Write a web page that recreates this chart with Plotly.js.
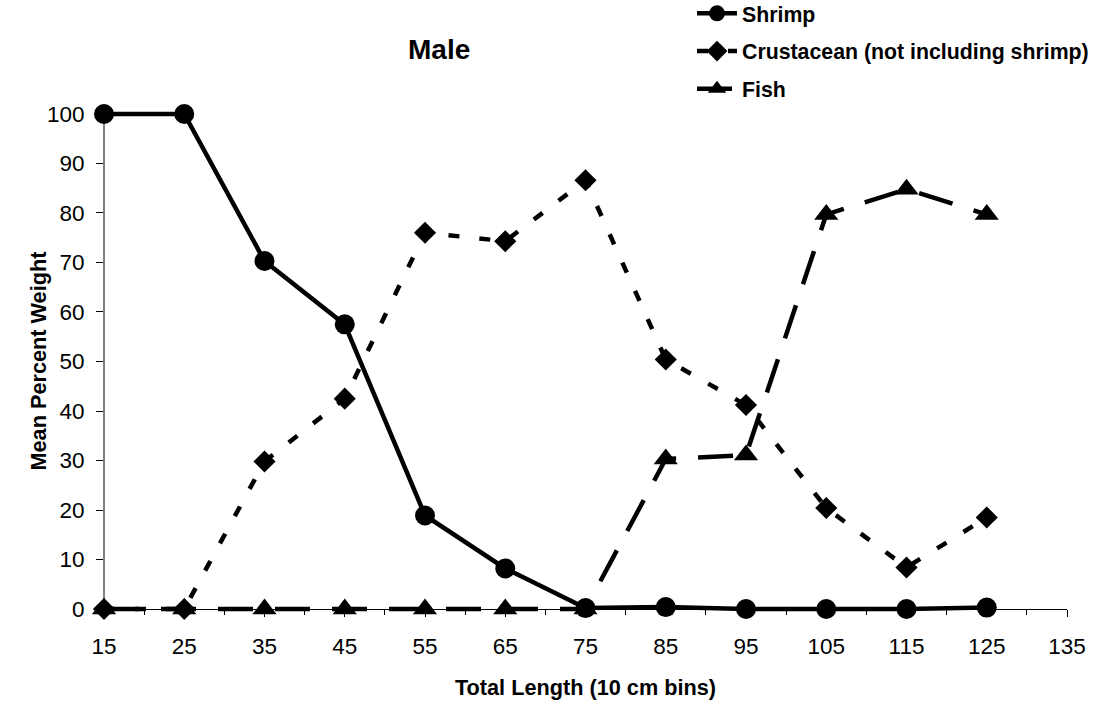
<!DOCTYPE html>
<html>
<head>
<script src="https://cdn.plot.ly/plotly-3.0.1.min.js"></script>
<style>html,body{margin:0;padding:0;background:#fff}#chart{width:1093px;height:705px}</style>
</head>
<body>
<div id="chart"></div>
<script>
const lengthBins = [15, 25, 35, 45, 55, 65, 75, 85, 95, 105, 115, 125];
const shrimp = [100, 100, 70.3, 57.5, 18.9, 8.2, 0.2, 0.4, 0, 0, 0, 0.3];
const crustacean = [0, 0, 29.8, 42.5, 76, 74.3, 86.6, 50.4, 41.2, 20.4, 8.4, 18.5];
const fish = [0, 0, 0, 0, 0, 0, 0, 30.3, 31.1, 79.7, 84.8, 79.7];
const xTicks = [15, 25, 35, 45, 55, 65, 75, 85, 95, 105, 115, 125, 135];
const yTicks = [0, 10, 20, 30, 40, 50, 60, 70, 80, 90, 100];

const font = 'Liberation Sans, Arial, sans-serif';
const traces = [
  {x: lengthBins, y: shrimp, name: 'Shrimp', mode: 'lines+markers', legendgroup: 'a',
   line: {color: '#000', width: 4.5},
   marker: {symbol: 'circle', size: 20, color: '#000'}, cliponaxis: false},
  {x: lengthBins, y: crustacean, name: 'Crustacean (not including shrimp)', mode: 'lines+markers', legendgroup: 'b',
   line: {color: '#000', width: 4.5, dash: '11px,20px'},
   marker: {symbol: 'diamond', size: 17, color: '#000'}, cliponaxis: false},
  {x: lengthBins, y: fish, name: 'Fish', mode: 'lines+markers', legendgroup: 'c',
   line: {color: '#000', width: 4.5, dash: '35px,22px'},
   marker: {symbol: 'triangle-up', size: 21, color: '#000'}, cliponaxis: false}
];

const layout = {
  width: 1093, height: 705,
  paper_bgcolor: '#fff', plot_bgcolor: '#fff',
  margin: {l: 104, r: 26, t: 109, b: 91, autoexpand: false},
  showlegend: true,
  legend: {x: 0.6106, y: 1.2297, xanchor: 'left', yanchor: 'top',
    font: {family: font, size: 21.3, color: '#000', weight: 'bold'},
    tracegroupgap: 7, itemwidth: 40, bgcolor: 'rgba(0,0,0,0)', traceorder: 'grouped'},
  title: {text: '<b>Male</b>', font: {family: font, size: 28, color: '#000'},
    x: 0.348, xref: 'paper', xanchor: 'center', y: 0.9305, yref: 'container', yanchor: 'middle'},
  xaxis: {range: [15, 135], tickvals: xTicks, ticktext: xTicks.map(String),
    anchor: 'free', position: 1 / 102,
    showgrid: false, zeroline: false, showline: true, linecolor: '#000', linewidth: 1,
    ticks: 'outside', ticklen: 7, tickcolor: '#000', ticklabelstandoff: 10,
    minor: {dtick: 10, tick0: 20, ticks: 'outside', ticklen: 5, tickcolor: '#000'},
    tickfont: {family: font, size: 22.5, color: '#000'},
    title: {text: '<b>Total Length (10 cm bins)</b>', font: {family: font, size: 21.7, color: '#000'}, standoff: 21}},
  yaxis: {range: [-1, 101], tickvals: yTicks, ticktext: yTicks.map(String),
    showgrid: false, zeroline: false, showline: false,
    ticks: 'outside', ticklen: 7, tickcolor: '#000', ticklabelstandoff: 7,
    tickfont: {family: font, size: 22.5, color: '#000'}},
  shapes: [
    {type: 'line', xref: 'paper', yref: 'y', x0: 0, x1: 0, y0: 0, y1: 100,
     line: {color: '#000', width: 1}, layer: 'below'}
  ],
  annotations: [
    {text: '<b>Mean Percent Weight</b>', textangle: -90, showarrow: false,
     xref: 'paper', yref: 'paper', x: -0.0685, y: 0.5, xanchor: 'center', yanchor: 'middle',
     font: {family: font, size: 21.7, color: '#000'}}
  ]
};

Plotly.newPlot('chart', traces, layout, {displayModeBar: false, staticPlot: true});
</script>
</body>
</html>
